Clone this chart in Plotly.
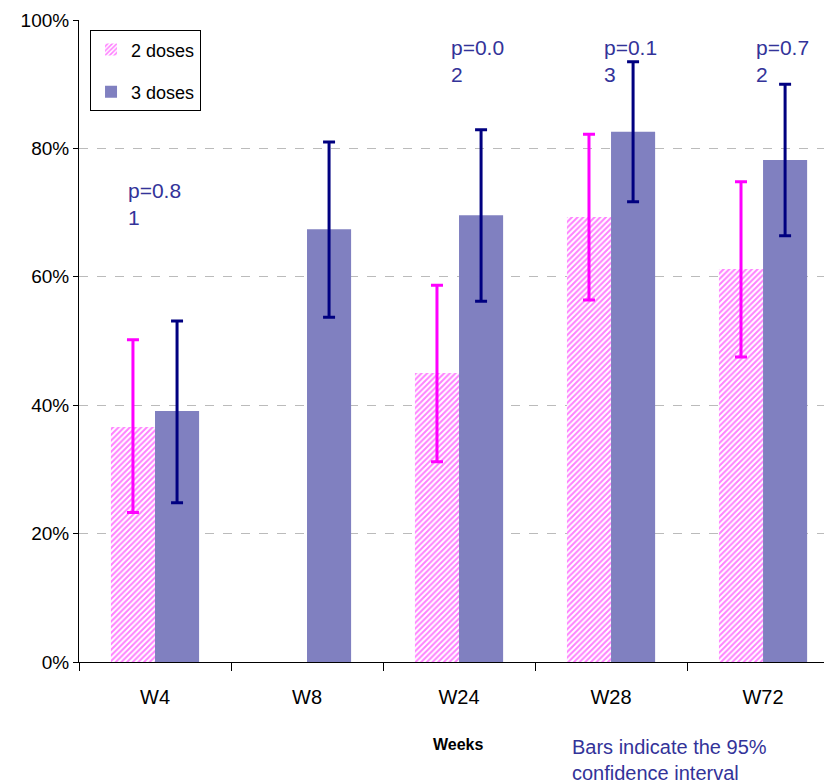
import plotly.graph_objects as go

# Response rates (%) by week with 95% confidence limits
weeks = ["W4", "W8", "W24", "W28", "W72"]

two_doses = [36.6, None, 45.0, 69.3, 61.2]
two_doses_low = [23.3, None, 31.2, 56.4, 47.5]
two_doses_high = [50.2, None, 58.7, 82.2, 74.8]

three_doses = [39.1, 67.4, 69.6, 82.6, 78.2]
three_doses_low = [24.8, 53.7, 56.2, 71.7, 66.4]
three_doses_high = [53.1, 81.0, 82.9, 93.5, 90.0]

# p-value labels (as wrapped in the chart) and the category they sit beside
p_labels = ["p=0.8<br>1", "p=0.0<br>2", "p=0.1<br>3", "p=0.7<br>2"]
p_label_x = [-0.19, 1.934, 2.939, 3.941]
p_label_y = [71.3, 93.6, 93.6, 93.6]


def plus(vals, hi):
    return [None if v is None else h - v for v, h in zip(vals, hi)]


def minus(vals, lo):
    return [None if v is None else v - l for v, l in zip(vals, lo)]


FONT = "Arial, Liberation Sans, sans-serif"

fig = go.Figure()

fig.add_trace(go.Bar(
    name="2 doses",
    x=weeks,
    y=two_doses,
    legendgroup="a",
    marker=dict(
        color="white",
        line=dict(width=0),
        pattern=dict(shape="/", fgcolor="#FF00FF", bgcolor="white",
                     size=4, solidity=0.5),
    ),
    error_y=dict(type="data", symmetric=False,
                 array=plus(two_doses, two_doses_high),
                 arrayminus=minus(two_doses, two_doses_low),
                 color="#FF00FF", thickness=3, width=6),
))

fig.add_trace(go.Bar(
    name="3 doses",
    x=weeks,
    y=three_doses,
    legendgroup="b",
    marker=dict(color="#8080C0", line=dict(width=0)),
    error_y=dict(type="data", symmetric=False,
                 array=plus(three_doses, three_doses_high),
                 arrayminus=minus(three_doses, three_doses_low),
                 color="#000080", thickness=3, width=6),
))

for txt, xv, yv in zip(p_labels, p_label_x, p_label_y):
    fig.add_annotation(
        x=xv, y=yv, xref="x", yref="y", text=txt, showarrow=False,
        xanchor="left", yanchor="middle", align="left",
        font=dict(family=FONT, size=21, color="#333399"),
    )

fig.add_annotation(
    x=0.509, y=-0.128, xref="paper", yref="paper", text="<b>Weeks</b>",
    showarrow=False, xanchor="center", yanchor="middle",
    font=dict(family=FONT, size=16, color="black"),
)
fig.add_annotation(
    x=0.659, y=-0.153, xref="paper", yref="paper",
    text="Bars indicate the 95%<br>confidence interval",
    showarrow=False, xanchor="left", yanchor="middle", align="left",
    font=dict(family=FONT, size=20, color="#333399"),
)

fig.update_layout(
    width=824,
    height=784,
    margin=dict(l=79, r=0, t=20, b=122),
    paper_bgcolor="white",
    plot_bgcolor="white",
    barmode="group",
    bargap=0.42,
    bargroupgap=0,
    font=dict(family=FONT, size=18, color="black"),
    showlegend=True,
    legend=dict(
        x=0.0148, y=0.984, xanchor="left", yanchor="top",
        bordercolor="black", borderwidth=1, bgcolor="white",
        traceorder="grouped", tracegroupgap=16,
        itemwidth=30,
        font=dict(family=FONT, size=18, color="black"),
    ),
    xaxis=dict(
        type="category",
        range=[-0.5, 4.401],
        showline=True, linecolor="black", linewidth=1,
        ticks="outside", tickson="boundaries", ticklen=8,
        tickcolor="black", ticklabelstandoff=17,
        showgrid=False,
        tickfont=dict(family=FONT, size=20, color="black"),
    ),
    yaxis=dict(
        range=[0, 100],
        dtick=20,
        ticksuffix="%",
        showline=True, linecolor="black", linewidth=1,
        ticks="outside", ticklen=5, tickcolor="black",
        showgrid=True, gridcolor="#BBBBBB", griddash="dash", gridwidth=1,
        zeroline=False,
        tickfont=dict(family=FONT, size=19, color="black"),
    ),
)

fig.write_html("out.html")
